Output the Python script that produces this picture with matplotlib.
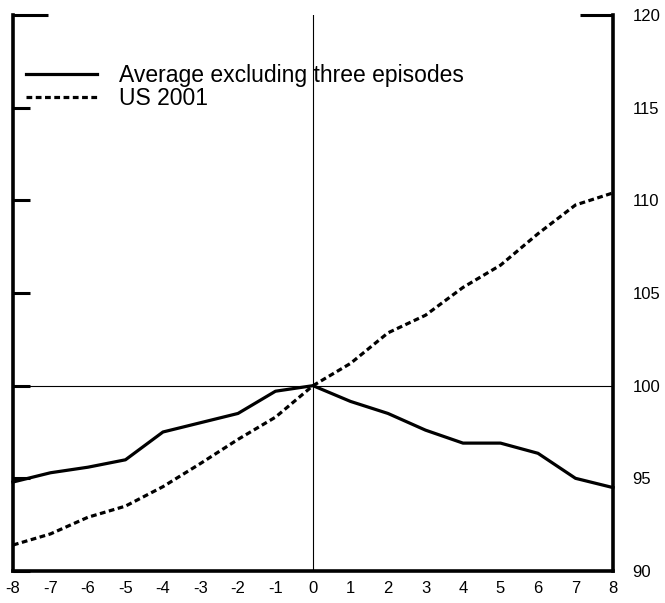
import numpy as np
import matplotlib
matplotlib.use("Agg")
import matplotlib.pyplot as plt

plt.rcParams['font.family'] = ['Liberation Sans', 'DejaVu Sans']
plt.rcParams['axes.unicode_minus'] = False

quarters = [-8, -7, -6, -5, -4, -3, -2, -1, 0, 1, 2, 3, 4, 5, 6, 7, 8]
avg_excl = [94.8, 95.3, 95.6, 96.0, 97.5, 98.0, 98.5, 99.7, 100.0,
            99.15, 98.5, 97.6, 96.9, 96.9, 96.35, 95.0, 94.5]
us_2001 = [91.4, 92.0, 92.9, 93.5, 94.55, 95.8, 97.1, 98.3, 100.0,
           101.2, 102.85, 103.8, 105.3, 106.5, 108.2, 109.75, 110.4]
yticks = [90, 95, 100, 105, 110, 115, 120]

fig = plt.figure(figsize=(6.65, 6.03), dpi=100)
ax = fig.add_axes([0.0195, 0.0531, 0.9023, 0.922])

ax.axvline(0, color='black', lw=0.8, zorder=1)
ax.axhline(100, color='black', lw=0.8, zorder=1)

ax.plot(quarters, avg_excl, color='black', lw=2.3,
        label='Average excluding three episodes', clip_on=False, zorder=3)
ax.plot(quarters, us_2001, color='black', lw=2.3, dashes=(1.8, 1.1),
        label='US 2001', clip_on=False, zorder=3)

ax.set_xlim(-8, 8)
ax.set_ylim(90, 120)
ax.set_xticks(quarters)
ax.set_yticks(yticks)

for side in ['left', 'right', 'bottom']:
    ax.spines[side].set_linewidth(2.6)
ax.spines['top'].set_visible(False)

ax.tick_params(axis='x', length=0, pad=7, labelsize=12)
ax.tick_params(axis='y', direction='in', length=12, width=2.2,
               left=True, right=True, labelleft=False, labelright=True,
               labelsize=12, pad=14)
# right side only marks the top value; left top mark is longer
for t in ax.yaxis.get_major_ticks():
    t.tick2line.set_markersize(0)
top = ax.yaxis.get_major_ticks()[-1]
top.tick1line.set_markersize(25)
top.tick2line.set_markersize(24)

ax.legend(loc='upper left', bbox_to_anchor=(0.022, 0.912), frameon=False,
          fontsize=16.5, handlelength=3.1, handletextpad=0.95,
          labelspacing=0.0, borderpad=0, borderaxespad=0)

fig.savefig('out.png', dpi=100)
